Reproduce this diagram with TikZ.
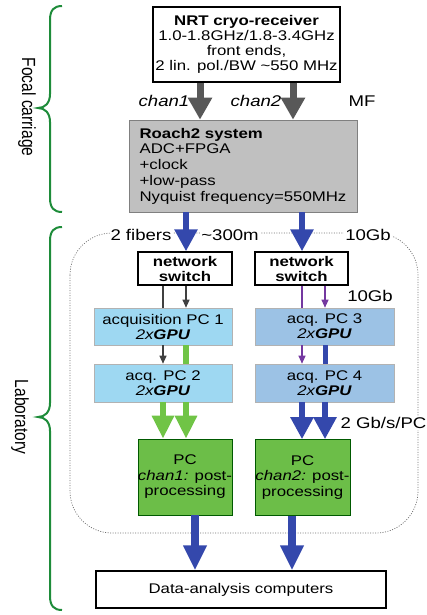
\documentclass[tikz,border=0pt]{standalone}
\usepackage{fontspec}
\setmainfont{Liberation Sans}[FakeStretch=1.2]
\newfontfamily\rotfont{Liberation Sans}[FakeStretch=0.82]
\usetikzlibrary{arrows.meta}
\definecolor{arrgray}{RGB}{88,88,88}
\definecolor{boxgray}{RGB}{192,192,192}
\definecolor{arrblue}{RGB}{52,72,172}
\definecolor{pcblueA}{RGB}{158,216,242}
\definecolor{pcblueB}{RGB}{156,194,229}
\definecolor{pcgreen}{RGB}{108,190,72}
\definecolor{arrgreen}{RGB}{112,196,70}
\definecolor{thinpurple}{RGB}{116,56,160}
\definecolor{thingray}{RGB}{64,64,64}
\definecolor{bracegreen}{RGB}{30,140,58}
\definecolor{dotgray}{RGB}{110,110,110}
\begin{document}
\begin{tikzpicture}[x=1pt,y=-1pt,
  every node/.style={inner sep=0pt, font=\fontsize{14}{15}\selectfont},
  box/.style={draw=black, line width=1.3pt, align=center},
  graybox/.style={draw=gray, line width=0.6pt, fill=boxgray, align=left, font=\fontsize{14}{15.75}\selectfont},
  pcboxA/.style={draw=gray!60, line width=0.6pt, fill=pcblueA, align=center},
  pcboxB/.style={draw=gray!60, line width=0.6pt, fill=pcblueB, align=center},
  greenbox/.style={draw=green!35!black, line width=0.6pt, fill=pcgreen, align=center, font=\fontsize{14}{15.5}\selectfont},
  lbl/.style={font=\fontsize{15.5}{17}\selectfont},
  lblw/.style={lbl, fill=white, inner xsep=1pt, inner ysep=1pt},
  grayarrow/.style={draw=arrgray, line width=7pt, -{Triangle[width=23pt,length=22pt]}},
  bluearrow/.style={draw=arrblue, line width=6.5pt, -{Triangle[width=22pt,length=22pt]}},
  bigbluearrow/.style={draw=arrblue, line width=8pt, -{Triangle[width=22pt,length=25pt]}},
  greenarrow/.style={draw=arrgreen, line width=6.5pt, -{Triangle[width=21pt,length=23pt]}},
  greenbar/.style={draw=arrgreen, line width=6pt},
  bluebar/.style={draw=arrblue, line width=5pt},
  thinline/.style={line width=1.1pt},
  thinhead/.style={thinline, -{Triangle[width=7pt,length=8pt]}},
  bracestyle/.style={draw=bracegreen, line width=2pt},
  rotlbl/.style={rotate=-90, font=\rotfont\fontsize{19}{20}\selectfont}
]
\useasboundingbox (0,0) rectangle (427,615);

% dotted laboratory region
\draw[dotgray, line width=0.7pt, dash pattern=on 1pt off 1.5pt, rounded corners=42pt] (70,233) rectangle (418,533);

% x positions of connectors
\coordinate (xa) at (200,0);
\coordinate (xb) at (293,0);
\coordinate (xc) at (186,0);
\coordinate (xd) at (302,0);
\coordinate (xe) at (163,0);
\coordinate (xf) at (325,0);
\coordinate (xg) at (195,0);
\coordinate (xh) at (292,0);

% nodes
\node[box, minimum width=187pt, minimum height=75pt] (nrt) at (246.5,44.5)
  {\textbf{NRT cryo-receiver}\\1.0-1.8GHz/1.8-3.4GHz\\front ends,\\2 lin. pol./BW \textasciitilde550 MHz};
\node[graybox, minimum width=228pt, minimum height=92pt] (roach) at (243,166)
  {\textbf{Roach2 system}\\ADC+FPGA\\+clock\\+low-pass\\Nyquist frequency=550MHz};
\node[box, font=\fontsize{14}{15}\selectfont\bfseries, minimum width=94pt, minimum height=33pt] (sw1) at (185,268.5) {network\\switch};
\node[box, font=\fontsize{14}{15}\selectfont\bfseries, minimum width=93pt, minimum height=33pt] (sw2) at (301.5,268.5) {network\\switch};
\node[pcboxA, minimum width=138pt, minimum height=37pt] (pc1) at (163,326.5) {acquisition PC 1\\\textit{2x\textbf{GPU}}};
\node[pcboxA, minimum width=138pt, minimum height=38pt] (pc2) at (163,383) {acq. PC 2\\\textit{2x\textbf{GPU}}};
\node[pcboxB, minimum width=139pt, minimum height=37pt] (pc3) at (324.5,326.5) {acq. PC 3\\\textit{2x\textbf{GPU}}};
\node[pcboxB, minimum width=139pt, minimum height=38pt] (pc4) at (324.5,383) {acq. PC 4\\\textit{2x\textbf{GPU}}};
\node[greenbox, minimum width=94pt, minimum height=76pt] (g1) at (185,477) {PC\\\textit{chan1:} post-\\processing};
\node[greenbox, minimum width=95pt, minimum height=76pt] (g2) at (302.5,477.5) {PC\\\textit{chan2:} post-\\processing};
\node[box, line width=1.1pt, minimum width=290pt, minimum height=37pt] (data) at (241,589.5) {Data-analysis computers};

% connectors
\draw[grayarrow] (nrt.south -| xa) -- (roach.north -| xa);
\draw[grayarrow] (nrt.south -| xb) -- (roach.north -| xb);
\draw[bluearrow] (roach.south -| xc) -- (sw1.north -| xc);
\draw[bluearrow] (roach.south -| xd) -- (sw2.north -| xd);

\draw[thinline, thingray] (sw1.south -| xe) -- (pc1.north -| xe);
\draw[thinhead, thingray] (sw1.south -| xc) -- (pc1.north -| xc);
\draw[thinhead, thingray] (pc1.south -| xe) -- (pc2.north -| xe);
\draw[greenbar] (pc1.south -| xc) -- (pc2.north -| xc);
\draw[greenarrow] (pc2.south -| xe) -- (g1.north -| xe);
\draw[greenarrow] (pc2.south -| xc) -- (g1.north -| xc);

\draw[thinline, thinpurple] (sw2.south -| xd) -- (pc3.north -| xd);
\draw[thinhead, thinpurple] (sw2.south -| xf) -- (pc3.north -| xf);
\draw[thinhead, thinpurple] (pc3.south -| xd) -- (pc4.north -| xd);
\draw[bluebar] (pc3.south -| xf) -- (pc4.north -| xf);
\draw[bluearrow] (pc4.south -| xd) -- (g2.north -| xd);
\draw[bluearrow] (pc4.south -| xf) -- (g2.north -| xf);

\draw[bigbluearrow] (g1.south -| xg) -- (data.north -| xg);
\draw[bigbluearrow] (g2.south -| xh) -- (data.north -| xh);

% labels
\node[lbl, font=\fontsize{15.5}{17}\selectfont\itshape] (c1) at (164,101) {chan1};
\node[lbl, font=\fontsize{15.5}{17}\selectfont\itshape] (c2) at (256,101) {chan2};
\node[lbl] (mf) at (362,101) {MF};
\node[lblw] (fib) at (141,235) {2 fibers};
\node[lblw] (dist) at (230,235) {\textasciitilde300m};
\node[lblw] (tg1) at (368,235) {10Gb};
\node[lbl] (tg2) at (370,296) {10Gb};
\node[lblw] (gbs) at (383.5,423) {2 Gb/s/PC};

% braces
\draw[bracestyle] (62,6) .. controls (54,6) and (50,10) .. (50,20) -- (50,94)
  .. controls (50,103) and (45,108) .. (38,108)
  .. controls (45,108) and (50,113) .. (50,122) -- (50,198)
  .. controls (50,208) and (54,212) .. (62,212);
\draw[bracestyle] (62,227) .. controls (54,227) and (50,231) .. (50,241) -- (50,403)
  .. controls (50,412) and (45,417) .. (38,417)
  .. controls (45,417) and (50,422) .. (50,431) -- (50,596)
  .. controls (50,606) and (54,610) .. (62,610);
\node[rotlbl] (fc) at (27,107) {Focal carriage};
\node[rotlbl] (lab) at (20,417) {Laboratory};
\end{tikzpicture}
\end{document}
